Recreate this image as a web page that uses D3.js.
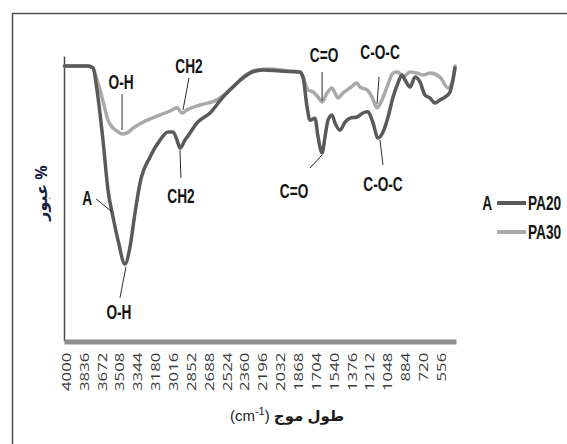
<!DOCTYPE html>
<html lang="ar">
<head>
<meta charset="UTF-8">
<title>FTIR PA20 / PA30</title>
<script src="https://d3js.org/d3.v7.min.js"></script>
<style>
    body { margin: 0; background: #fff; }
    .tick text { font-family: "Open Sans", "Liberation Sans", sans-serif; font-size: 12px; fill: #3a3a3a; }
    .note text, .legend text { font-family: "Liberation Sans", Arial, sans-serif; font-weight: bold; font-size: 18px; fill: #141414; }
    .leader { stroke: #2a2a2a; stroke-width: 1; }
</style>
</head>
<body>
<script>
// wavenumber ticks on the x axis (cm-1)
const tickWaves = [4000, 3836, 3672, 3508, 3344, 3180, 3016, 2852, 2688, 2524, 2360,
                   2196, 2032, 1868, 1704, 1540, 1376, 1212, 1048, 884, 720, 556]

// PA20 (dark) - transmittance, arbitrary %
const pa20Wave = [4016, 3800, 3754, 3717, 3662, 3616, 3570, 3524, 3460, 3414, 3368, 3322, 3230,
                  3138, 3065, 3019, 2982, 2955, 2909, 2863, 2799, 2679, 2560, 2431, 2312, 2192,
                  2036, 1853, 1825, 1788, 1761, 1715, 1687, 1650, 1623, 1595, 1559, 1531, 1485,
                  1439, 1393, 1329, 1274, 1228, 1182, 1136, 1090, 1044, 998, 953, 916, 888, 842,
                  796, 751, 705, 659, 613, 567, 521, 475, 448, 429]
const pa20T = [96.5, 96.5, 95.8, 88.1, 70.5, 53.0, 43.5, 35.4, 27.0, 33.0, 44.9, 55.4, 64.6,
               70.5, 73.3, 73.3, 70.5, 67.7, 70.5, 73.0, 76.5, 80.0, 85.6, 90.5, 94.0, 95.1,
               94.7, 94.4, 92.6, 82.1, 77.5, 78.2, 71.6, 66.0, 71.6, 77.5, 79.3, 76.5, 74.0,
               76.8, 78.2, 78.6, 80.0, 80.4, 76.5, 71.2, 73.3, 78.6, 85.6, 90.5, 93.3, 91.6, 89.1,
               92.6, 90.9, 86.3, 85.3, 83.5, 84.6, 85.6, 87.4, 91.6, 95.8]

// PA30 (light)
const pa30Wave = [4016, 3800, 3754, 3717, 3689, 3653, 3616, 3570, 3533, 3487, 3441, 3386, 3294,
                  3166, 3047, 2982, 2936, 2890, 2771, 2615, 2495, 2376, 2248, 2128, 1944, 1853,
                  1825, 1779, 1733, 1687, 1650, 1605, 1559, 1531, 1504, 1458, 1393, 1329, 1302,
                  1237, 1191, 1145, 1100, 1054, 998, 953, 907, 842, 778, 723, 659, 567, 494, 457, 429]
const pa30T = [96.5, 96.5, 95.8, 91.6, 88.1, 82.8, 77.5, 74.7, 73.7, 72.6, 73.0, 74.7, 76.8,
               78.9, 80.7, 81.8, 80.0, 81.1, 82.8, 84.6, 88.1, 92.6, 95.1, 95.4, 94.7, 94.4,
               92.6, 88.1, 87.4, 85.6, 83.9, 87.0, 88.8, 87.0, 85.3, 87.0, 88.8, 90.5, 89.1,
               88.1, 85.6, 81.8, 84.6, 89.1, 94.0, 94.4, 92.6, 94.4, 94.0, 93.3, 94.0, 92.6, 88.8, 90.5, 96.5]

const seriesNames = ["PA20", "PA30"]
const seriesColors = ["#5a5a5a", "#a9a9a9"]

// peak notes: anchor on the curve (wave, value), leader end and text offsets in px
const notes = [
    {text: "O-H",   wave: 3487, value: 74.0, lx: 0,   ly: -36, tx: -1,  ty: -41},
    {text: "CH2",   wave: 2927, value: 81.1, lx: 6,   ly: -32, tx: 6,   ty: -37},
    {text: "CH2",   wave: 2955, value: 67.0, lx: 1,   ly: 28,  tx: 1,   ty: 53},
    {text: "O-H",   wave: 3451, value: 26.0, lx: -6,  ly: 31,  tx: -7,  ty: 52},
    {text: "A",     wave: 3579, value: 45.3, lx: -16, ly: -13, tx: -20, ty: -7},
    {text: "C=O",   wave: 1650, value: 84.2, lx: 0,   ly: -29, tx: 2,   ty: -39},
    {text: "C-O-C", wave: 1145, value: 83.2, lx: 2,   ly: -27, tx: 3,   ty: -45},
    {text: "C=O",   wave: 1650, value: 65.3, lx: -12, ly: 13,  tx: -28, ty: 43},
    {text: "C-O-C", wave: 1118, value: 70.5, lx: 3,   ly: 25,  tx: 3,   ty: 51}
]

const W = 567, H = 444
const PLOT = {LEFT: 64, RIGHT: 456, TOP: 56, BOTTOM: 341}

const svg = d3.select("body").append("svg")
    .attr("width", W)
    .attr("height", H)

// outer frame (runs off the right and bottom of the picture)
svg.append("rect")
    .attr("x", 12.5).attr("y", 13.5)
    .attr("width", 620).attr("height", 520)
    .attr("fill", "none")
    .attr("stroke", "#505050")
    .attr("stroke-width", 1.5)

const x = d3.scaleLinear().domain([4020, 420]).range([PLOT.LEFT, PLOT.RIGHT])
const y = d3.scaleLinear().domain([0, 100]).range([PLOT.BOTTOM, PLOT.TOP])

// y axis: plain line, no ticks
svg.append("g")
    .attr("transform", `translate(${PLOT.LEFT},0)`)
    .call(d3.axisLeft(y).tickValues([]).tickSizeOuter(0))
    .select(".domain")
        .attr("stroke", "#4a4a4a")
        .attr("stroke-width", 1.5)

// x axis: thick grey bar, vertical labels
const xAxis = svg.append("g")
    .attr("transform", `translate(0,${PLOT.BOTTOM + 0.5})`)
    .call(d3.axisBottom(x).tickValues(tickWaves).tickSize(0).tickFormat(d3.format("d")))
xAxis.select(".domain")
    .attr("stroke", "#8e8e8e")
    .attr("stroke-width", 5)
xAxis.selectAll(".tick text")
    .attr("text-anchor", "end")
    .attr("x", -8)
    .attr("y", 0)
    .attr("dy", "0.35em")
    .attr("transform", "rotate(-90) scale(1.4,1)")

// curves
const line = d3.line()
    .x(d => x(d[0]))
    .y(d => y(d[1]))
    .curve(d3.curveMonotoneX)

const series = [
    d3.zip(pa30Wave, pa30T),
    d3.zip(pa20Wave, pa20T)
]
const seriesColor = [seriesColors[1], seriesColors[0]]

svg.selectAll(".curve")
    .data(series)
    .enter()
    .append("path")
    .attr("class", "curve")
    .attr("d", line)
    .attr("fill", "none")
    .attr("stroke", (d, i) => seriesColor[i])
    .attr("stroke-width", 3.5)
    .attr("stroke-linejoin", "round")
    .attr("stroke-linecap", "round")

// condensed bold label helper
function label(parent, px, py, txt, anchor) {
    return parent.append("text")
        .attr("transform", `translate(${px},${py}) scale(0.76,1.1)`)
        .attr("text-anchor", anchor || "middle")
        .text(txt)
}

// peak notes
const noteG = svg.append("g").attr("class", "note")
notes.forEach(n => {
    const px = x(n.wave), py = y(n.value)
    noteG.append("line")
        .attr("class", "leader")
        .attr("x1", px).attr("y1", py)
        .attr("x2", px + n.lx).attr("y2", py + n.ly)
    label(noteG, px + n.tx, py + n.ty, n.text, n.text == "A" ? "end" : "middle")
})

// legend
const legend = svg.append("g").attr("class", "legend")
    .attr("transform", "translate(497,203)")
seriesNames.forEach((s, i) => {
    const row = legend.append("g").attr("transform", `translate(0,${i * 29})`)
    row.append("line")
        .attr("x1", 0).attr("x2", 29)
        .attr("stroke", seriesColors[i])
        .attr("stroke-width", 4)
    label(row, 31, 6.5, s, "start")
})
label(legend, -5, 6.5, "A", "end")

// axis titles
svg.append("text")
    .attr("transform", "translate(47,193) rotate(-90)")
    .attr("text-anchor", "middle")
    .attr("font-family", "'Noto Sans', 'DejaVu Sans', sans-serif")
    .attr("font-weight", "bold")
    .attr("font-size", 16)
    .attr("fill", "#14213d")
    .text("عبور %")

const xTitle = svg.append("text")
    .attr("x", 287)
    .attr("y", 421)
    .attr("text-anchor", "middle")
    .attr("font-family", "'Liberation Sans', 'DejaVu Sans', sans-serif")
    .attr("font-size", 15)
    .attr("fill", "#1a1a1a")
xTitle.append("tspan").text("(cm")
xTitle.append("tspan").attr("dy", -6).attr("font-size", 11).text("-1")
xTitle.append("tspan").attr("dy", 6).text(") ")
xTitle.append("tspan").attr("font-weight", "bold").text("طول موج")
</script>
</body>
</html>
